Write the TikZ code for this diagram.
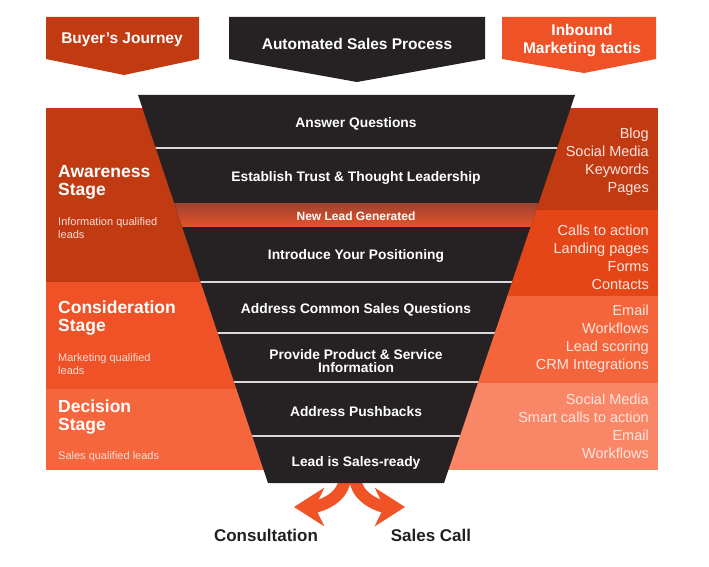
\documentclass[tikz,border=0pt]{standalone}
\usepackage{fontspec}
\setmainfont{Liberation Sans}
\usetikzlibrary{arrows.meta}

\definecolor{buyerRed}{HTML}{C13A12}
\definecolor{funnelBlack}{HTML}{262223}
\definecolor{inboundOrange}{HTML}{F05228}
\definecolor{considerOrange}{HTML}{EF5226}
\definecolor{decideOrange}{HTML}{F5663C}
\definecolor{tacticA}{HTML}{C13A12}
\definecolor{tacticB}{HTML}{E54618}
\definecolor{tacticC}{HTML}{F5653C}
\definecolor{tacticD}{HTML}{F98666}
\definecolor{bandTop}{HTML}{9C4330}
\definecolor{bandBottom}{HTML}{E6522A}
\definecolor{lineGrey}{HTML}{D8D8D8}
\definecolor{arrowOrange}{HTML}{F05326}
\definecolor{labelBlack}{HTML}{231F20}
\definecolor{noteText}{HTML}{F9DDD4}
\definecolor{tacticText}{HTML}{FDE6DF}

\begin{document}
\begin{tikzpicture}[x=1pt, y=-1pt]
	% Styles
	\tikzstyle{header}=[text=white,font=\bfseries\fontsize{15.5}{18}\selectfont,align=center,inner sep=0pt,yshift=-2pt]
	\tikzstyle{funneltext}=[text=white,font=\bfseries\fontsize{13.8}{13}\selectfont,align=center,inner sep=0pt,yshift=-2pt]
	\tikzstyle{stage}=[text=white,font=\bfseries\fontsize{17.5}{18}\selectfont,align=left,anchor=west,inner sep=0pt,yshift=-2pt]
	\tikzstyle{stagenote}=[text=noteText,font=\fontsize{11}{12.5}\selectfont,align=left,anchor=west,inner sep=0pt,yshift=-1pt]
	\tikzstyle{tactic}=[text=tacticText,font=\fontsize{14.5}{18}\selectfont,align=right,anchor=east,inner sep=0pt,yshift=-2pt]
	\tikzstyle{outcome}=[text=labelBlack,font=\bfseries\fontsize{17}{20}\selectfont,inner sep=0pt]
	\tikzstyle{separator}=[draw=lineGrey,line width=1.5pt]
	\tikzstyle{splitarrow}=[draw=arrowOrange,line width=12pt,-{Stealth[length=30pt,width=38pt,inset=9pt]}]

	\useasboundingbox (0,0) rectangle (709,567);

	% Header arrows
	\foreach \l/\r/\tipx/\tipy/\col in {46/199/124/75/buyerRed, 229/485/357/82/funnelBlack, 502/656/584/73/inboundOrange}
	\fill[\col] (\l,17) -- (\r,17) -- (\r,59) -- (\tipx,\tipy) -- (\l,59) -- cycle;
	\node[header] (buyer) at (122,38) {Buyer’s Journey};
	\node[header] (process) at (357,42) {Automated Sales Process};
	\node[header] (inbound) at (582,39) {Inbound\\Marketing tactis};

	% Stage panels (left)
	\foreach \top/\bot/\col in {108/282/buyerRed, 282/389/considerOrange, 389/470/decideOrange}
	\fill[\col] (46,\top) rectangle (300,\bot);

	% Tactic panels (right)
	\foreach \top/\bot/\col in {108/210/tacticA, 210/296/tacticB, 296/383/tacticC, 383/470/tacticD}
	\fill[\col] (420,\top) rectangle (658,\bot);

	% Outcome arrows
	\coordinate (leftstem) at (345,476);
	\coordinate (rightstem) at (355,476);
	\coordinate (consulttip) at (294,507);
	\coordinate (calltip) at (405,507);
	\draw[splitarrow] (leftstem) to[out=-90,in=0] (consulttip);
	\draw[splitarrow] (rightstem) to[out=-90,in=180] (calltip);

	% Funnel
	\fill[funnelBlack] (138,95) -- (575,95) -- (444,483) -- (268,483) -- cycle;
	\begin{scope}
		\clip (138,95) -- (575,95) -- (444,483) -- (268,483) -- cycle;
		\shade[top color=bandTop, bottom color=bandBottom] (100,203) rectangle (620,226);
		\foreach \y in {148,282,333,382,436}
		\draw[separator] (100,\y) -- (620,\y);
	\end{scope}

	% Funnel steps
	\foreach \name/\y/\txt in {answer/122/Answer Questions, trust/176/Establish Trust \& Thought Leadership, position/254/Introduce Your Positioning, common/308/Address Common Sales Questions, product/359/{Provide Product \& Service\\Information}, pushback/410/Address Pushbacks, ready/461/Lead is Sales-ready}
	\node[funneltext] (\name) at (356,\y) {\txt};
	\node[funneltext, font=\bfseries\fontsize{12}{12}\selectfont] (newlead) at (356,214) {New Lead Generated};

	% Stages
	\foreach \name/\y/\txt in {awareness/180/Awareness, consideration/316/Consideration, decision/415/Decision}
	\node[stage] (\name) at (58,\y) {\txt\\Stage};
	\foreach \name/\y/\txt in {awarenote/227/{Information qualified\\leads}, considernote/363/{Marketing qualified\\leads}, decidenote/456/Sales qualified leads}
	\node[stagenote] (\name) at (58,\y) {\txt};

	% Tactics
	\foreach \name/\y/\txt in {content/160/{Blog\\Social Media\\Keywords\\Pages}, convert/255/{Calls to action\\Landing pages\\Forms\\Contacts}, nurture/337/{Email\\Workflows\\Lead scoring\\CRM Integrations}, close/424/{Social Media\\Smart calls to action\\Email\\Workflows}}
	\node[tactic] (\name) at (649,\y) {\txt};

	% Outcomes
	\node[outcome] (consult) at (266,535) {Consultation};
	\node[outcome] (salescall) at (431,535) {Sales Call};
\end{tikzpicture}
\end{document}
